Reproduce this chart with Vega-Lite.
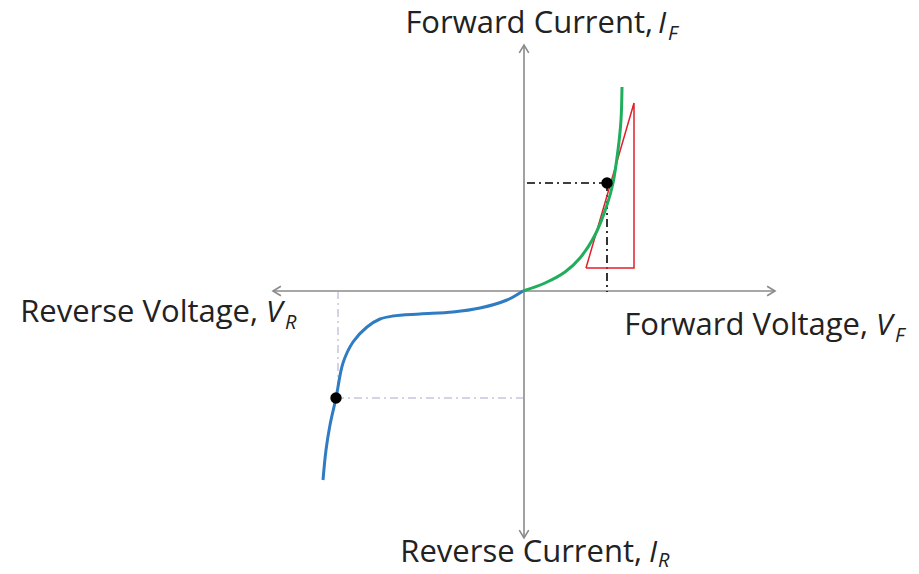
{
  "$schema": "https://vega.github.io/schema/vega-lite/v6.json",
  "width": 919,
  "height": 574,
  "autosize": {"type": "fit", "contains": "padding"},
  "padding": 0,
  "background": "white",
  "config": {"view": {"stroke": null}},
  "datasets": {
    "axes": [
      {"id": "h", "x": -5.0, "y": 0},
      {"id": "h", "x": 5.04, "y": 0},
      {"id": "v", "x": 0.02, "y": 4.92},
      {"id": "v", "x": 0.02, "y": -4.94}
    ],
    "tips": [
      {"dir": "right", "x": 5.04, "y": 0},
      {"dir": "left", "x": -5.0, "y": 0},
      {"dir": "up", "x": 0.02, "y": 4.92},
      {"dir": "down", "x": 0.02, "y": -4.94}
    ],
    "forward": [
      {"o": 0, "x": 0, "y": 0},
      {"o": 1, "x": 0.44, "y": 0.16},
      {"o": 2, "x": 0.84, "y": 0.38},
      {"o": 3, "x": 1.14, "y": 0.66},
      {"o": 4, "x": 1.44, "y": 1.12},
      {"o": 5, "x": 1.68, "y": 1.72},
      {"o": 6, "x": 1.8, "y": 2.16},
      {"o": 7, "x": 1.9, "y": 2.82},
      {"o": 8, "x": 1.96, "y": 3.42},
      {"o": 9, "x": 1.98, "y": 4.08}
    ],
    "reverse": [
      {"o": 0, "x": 0, "y": 0},
      {"o": 1, "x": -0.32, "y": -0.18},
      {"o": 2, "x": -0.86, "y": -0.34},
      {"o": 3, "x": -1.4, "y": -0.42},
      {"o": 4, "x": -2.06, "y": -0.46},
      {"o": 5, "x": -2.6, "y": -0.5},
      {"o": 6, "x": -2.86, "y": -0.56},
      {"o": 7, "x": -3.12, "y": -0.72},
      {"o": 8, "x": -3.4, "y": -1.02},
      {"o": 9, "x": -3.6, "y": -1.44},
      {"o": 10, "x": -3.74, "y": -2.14},
      {"o": 11, "x": -3.86, "y": -2.68},
      {"o": 12, "x": -3.94, "y": -3.18},
      {"o": 13, "x": -4.0, "y": -3.78}
    ],
    "tri": [
      {"o": 0, "x": 1.26, "y": 0.46},
      {"o": 1, "x": 2.22, "y": 0.46},
      {"o": 2, "x": 2.22, "y": 3.76},
      {"o": 3, "x": 1.26, "y": 0.46}
    ],
    "fwdGuides": [
      {"x": 0.08, "y": 2.16, "x2": 1.68, "y2": 2.16},
      {"x": 1.68, "y": 2.16, "x2": 1.68, "y2": -0.02}
    ],
    "revGuides": [
      {"x": -3.7, "y": 0, "x2": -3.7, "y2": -2.14},
      {"x": -3.74, "y": -2.14, "x2": 0, "y2": -2.14}
    ],
    "dots": [
      {"x": 1.68, "y": 2.16},
      {"x": -3.74, "y": -2.14}
    ],
    "labels": [
      {"role": "main", "text": "Forward Current,", "x": 2.6, "y": 5.16},
      {"role": "var", "text": "I", "x": 2.7, "y": 5.16},
      {"role": "sub", "text": "F", "x": 2.9, "y": 5.02},
      {"role": "main", "text": "Reverse Voltage,", "x": -5.3, "y": -0.62},
      {"role": "var", "text": "V", "x": -5.14, "y": -0.62},
      {"role": "sub", "text": "R", "x": -4.76, "y": -0.76},
      {"role": "main", "text": "Forward Voltage,", "x": 6.9, "y": -0.88},
      {"role": "var", "text": "V", "x": 7.06, "y": -0.88},
      {"role": "sub", "text": "F", "x": 7.44, "y": -1.02},
      {"role": "main", "text": "Reverse Current,", "x": 2.38, "y": -5.42},
      {"role": "var", "text": "I", "x": 2.52, "y": -5.42},
      {"role": "sub", "text": "R", "x": 2.7, "y": -5.52}
    ]
  },
  "encoding": {
    "x": {"field": "x", "type": "quantitative", "scale": {"domain": [-10.46, 7.92], "nice": false, "zero": false}, "axis": null},
    "y": {"field": "y", "type": "quantitative", "scale": {"domain": [-5.66, 5.82], "nice": false, "zero": false}, "axis": null}
  },
  "layer": [
    {
      "data": {"name": "axes"},
      "mark": {"type": "line", "color": "#8a8a8a", "strokeWidth": 1.6},
      "encoding": {"detail": {"field": "id"}}
    },
    {
      "data": {"name": "tips"},
      "mark": {"type": "point", "filled": false, "stroke": "#8a8a8a", "strokeWidth": 1.6, "size": 250, "opacity": 1},
      "encoding": {"shape": {"field": "dir", "type": "nominal", "scale": {"domain": ["right", "left", "up", "down"], "range": ["M-1,-0.6L0,0L-1,0.6", "M1,-0.6L0,0L1,0.6", "M-0.6,1L0,0L0.6,1", "M-0.6,-1L0,0L0.6,-1"]}, "legend": null}}
    },
    {
      "data": {"name": "fwdGuides"},
      "mark": {"type": "rule", "color": "#000000", "strokeWidth": 1.6, "strokeDash": [8, 4, 2, 4]},
      "encoding": {"x2": {"field": "x2"}, "y2": {"field": "y2"}}
    },
    {
      "data": {"name": "revGuides"},
      "mark": {"type": "rule", "color": "#a8a8cc", "strokeWidth": 1, "strokeDash": [8, 4, 2, 4]},
      "encoding": {"x2": {"field": "x2"}, "y2": {"field": "y2"}}
    },
    {
      "data": {"name": "tri"},
      "mark": {"type": "line", "color": "#e0202c", "strokeWidth": 1.5},
      "encoding": {"order": {"field": "o"}}
    },
    {
      "data": {"name": "forward"},
      "mark": {"type": "line", "color": "#1fae5b", "strokeWidth": 3, "interpolate": "catmull-rom"},
      "encoding": {"order": {"field": "o"}}
    },
    {
      "data": {"name": "reverse"},
      "mark": {"type": "line", "color": "#2f7cc2", "strokeWidth": 3, "interpolate": "catmull-rom"},
      "encoding": {"order": {"field": "o"}}
    },
    {
      "data": {"name": "dots"},
      "mark": {"type": "circle", "color": "#000000", "size": 130, "opacity": 1}
    },
    {
      "data": {"name": "labels"},
      "transform": [{"filter": "datum.role === 'main'"}],
      "mark": {"type": "text", "align": "right", "baseline": "alphabetic", "font": "Open Sans", "fontSize": 31, "color": "#222222"},
      "encoding": {"text": {"field": "text"}}
    },
    {
      "data": {"name": "labels"},
      "transform": [{"filter": "datum.role === 'var'"}],
      "mark": {"type": "text", "align": "left", "baseline": "alphabetic", "font": "Open Sans", "fontSize": 30, "fontStyle": "italic", "color": "#222222"},
      "encoding": {"text": {"field": "text"}}
    },
    {
      "data": {"name": "labels"},
      "transform": [{"filter": "datum.role === 'sub'"}],
      "mark": {"type": "text", "align": "left", "baseline": "alphabetic", "font": "Open Sans", "fontSize": 20, "fontStyle": "italic", "color": "#222222"},
      "encoding": {"text": {"field": "text"}}
    }
  ]
}
